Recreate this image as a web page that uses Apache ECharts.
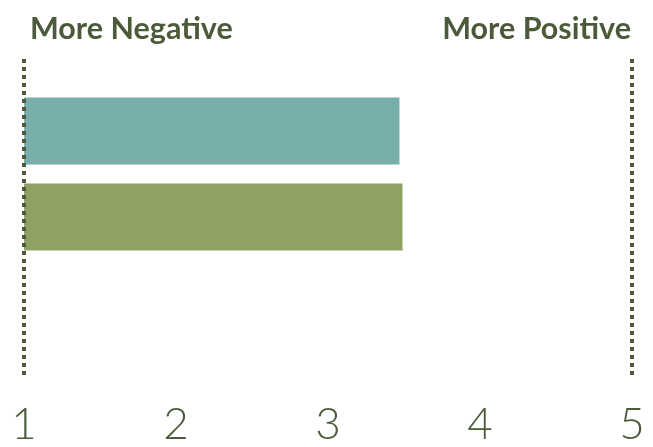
<!DOCTYPE html>
<html>
<head>
<meta charset="utf-8">
<script src="https://cdn.jsdelivr.net/npm/echarts@6/dist/echarts.min.js"></script>
<style>
html,body{margin:0;padding:0;background:#fff;}
#chart{width:653px;height:447px;}
</style>
</head>
<body>
<div id="chart"></div>
<script>
var categories = ['Group A', 'Group B'];
var values = [3.47, 3.49];
var tickLabels = ['1', '2', '3', '4', '5'];
var refLines = [1, 5];
var leftLabel = 'More Negative';
var rightLabel = 'More Positive';

var textColor = '#4b5a39';
var barColors = ['#78aeaa', '#8fa263'];

var chart = echarts.init(document.getElementById('chart'));
chart.setOption({
  animation: false,
  title: [
    { text: leftLabel, left: 30, top: 14, padding: 0,
      textStyle: { fontFamily: 'Lato', fontWeight: 700, fontSize: 30.5, color: textColor } },
    { text: rightLabel, right: 22, top: 14, padding: 0,
      textStyle: { fontFamily: 'Lato', fontWeight: 700, fontSize: 30.5, color: textColor } }
  ],
  grid: [
    { left: 24, right: 21, top: 88, height: 172 },
    { left: 24, right: 21, top: 58, bottom: 67 }
  ],
  xAxis: [
    { gridIndex: 0, type: 'value', min: 1, max: 5, interval: 1, show: false },
    { gridIndex: 1, type: 'value', min: 1, max: 5, interval: 1,
      axisLine: { show: false }, axisTick: { show: false }, splitLine: { show: false },
      axisLabel: {
        margin: 28, fontFamily: 'Lato', fontWeight: 300, fontSize: 44, color: textColor,
        formatter: function (v) { var i = tickLabels.indexOf(String(v)); return i >= 0 ? tickLabels[i] : ''; }
      } }
  ],
  yAxis: [
    { gridIndex: 0, type: 'category', data: categories, inverse: true, show: false },
    { gridIndex: 1, type: 'value', min: 0, max: 1, show: false }
  ],
  series: [
    {
      type: 'bar', xAxisIndex: 0, yAxisIndex: 0, barWidth: 67, z: 2,
      data: values.map(function (v, i) { return { value: v, itemStyle: { color: barColors[i] } }; })
    },
    {
      type: 'line', xAxisIndex: 1, yAxisIndex: 1, data: [], silent: true, z: 5,
      markLine: {
        silent: true, symbol: 'none', label: { show: false }, z: 5,
        lineStyle: { color: textColor, width: 4, type: [4, 4], opacity: 1 },
        data: refLines.map(function (x) { return { xAxis: x }; })
      }
    }
  ]
});
</script>
</body>
</html>
